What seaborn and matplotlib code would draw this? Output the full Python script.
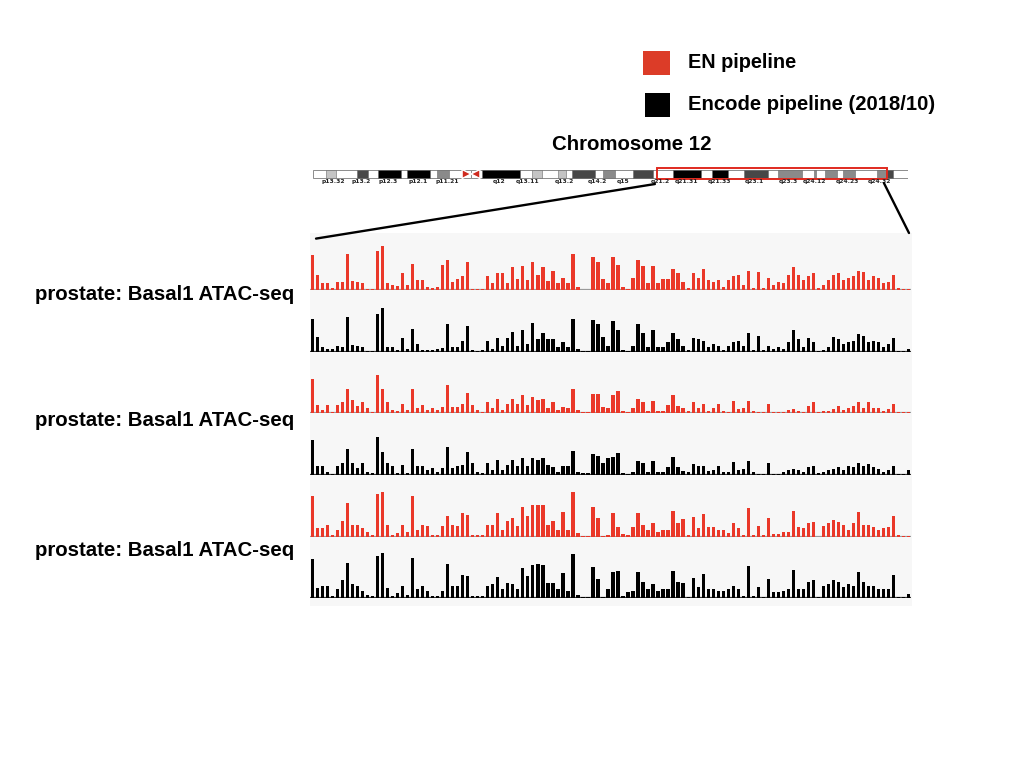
import numpy as np
import matplotlib.pyplot as plt
import seaborn as sns
from matplotlib.patches import Rectangle, Polygon, ConnectionPatch

sns.set_style("white")
plt.rcParams["font.family"] = ["Liberation Sans", "DejaVu Sans"]
plt.rcParams["text.color"] = "black"

W, H = 1024, 768

# chromosome 12 ideogram, positions in Mb
chrom_len = 133.3
band_start = [2.9, 9.9, 14.6, 21.1, 27.8, 37.9, 49.1, 54.9, 58.0, 65.0, 71.7, 80.6,
              89.4, 96.5, 104.2, 112.2, 114.7, 118.7, 126.3, 128.6]
band_end = [5.2, 12.3, 19.7, 26.2, 30.5, 46.4, 51.3, 56.7, 63.2, 67.6, 76.2, 86.9,
            93.0, 101.9, 109.5, 112.7, 117.4, 121.4, 128.6, 129.9]
band_stain = ["gpos25", "gpos75", "gpos100", "gpos100", "gpos50", "gpos100", "gpos25",
              "gpos25", "gpos75", "gpos50", "gpos75", "gpos100", "gpos100", "gpos75",
              "gpos50", "gpos50", "gpos50", "gpos50", "gpos50", "gpos75"]
cen_start, cen_end = 33.4, 37.4
band_labels = ["p13.32", "p13.2", "p12.3", "p12.1", "p11.21", "q12", "q13.11", "q13.2",
               "q14.2", "q15", "q21.2", "q21.31", "q21.33", "q23.1", "q23.3", "q24.12",
               "q24.23", "q24.32"]
band_label_pos = [4.5, 10.8, 16.8, 23.5, 30.0, 41.7, 48.0, 56.4, 63.6, 69.4, 77.9, 83.7,
                  91.1, 98.9, 106.5, 112.3, 119.7, 126.9]
zoom_start, zoom_end = 77.0, 128.6

# signal tracks (120 bins across the zoomed region)
en_basal1_a = [7.8, 3.3, 1.5, 1.5, 0.5, 1.8, 1.8, 8, 2, 1.8, 1.5, 0.3, 0.3, 8.7, 9.8, 1.5, 1, 0.8, 3.7, 1,
               5.8, 2.2, 2.2, 0.7, 0.5, 0.7, 5.5, 6.7, 1.8, 2.5, 3, 6.3, 0.3, 0.2, 0.3, 3, 1.5, 3.8, 3.7, 1.5,
               5, 2.5, 5.2, 2.2, 6.3, 3.3, 5, 2, 4.3, 1.5, 2.6, 1.5, 8, 0.7, 0.1, 0.1, 7.4, 6.3, 2.4, 1.5,
               7.4, 5.5, 0.7, 0.3, 2.6, 6.7, 5.2, 1.5, 5.2, 1.5, 2.5, 2.4, 4.6, 3.7, 1.8, 0.4, 3.7, 2.6, 4.6, 2.2,
               1.8, 2.2, 0.7, 2.2, 3, 3.3, 1, 4.3, 0.4, 4, 0.4, 2.6, 1, 1.8, 1.5, 3.3, 5, 3.3, 2.2, 3,
               3.7, 0.4, 1, 2.2, 3.3, 3.8, 2.2, 2.6, 3, 4.3, 4, 2.2, 3, 2.6, 1.5, 1.8, 3.3, 0.4, 0.2, 0.2]
encode_basal1_a = [7.4, 3.3, 1.1, 0.7, 0.6, 1.4, 1.1, 7.8, 1.5, 1.3, 1.2, 0.3, 0.2, 8.3, 9.8, 1.1, 1.1, 0.4, 3, 0.7,
                   5, 1.8, 0.4, 0.4, 0.4, 0.7, 0.8, 6.2, 1.1, 1.1, 2.5, 5.8, 0.4, 0.2, 0.4, 2.5, 0.7, 3, 1.4, 3,
                   4.5, 1.4, 4.9, 1.8, 6.5, 2.9, 4.3, 2.9, 2.9, 1.1, 2.2, 1.1, 7.4, 0.7, 0.2, 0.2, 7.1, 6.2, 3.3, 1.4,
                   6.9, 4.9, 0.4, 0.3, 1.4, 6.2, 4.3, 1.1, 4.9, 1.1, 1.1, 2.3, 4.3, 2.9, 1.4, 0.4, 3, 2.9, 2.5, 1.1,
                   1.8, 1.4, 0.4, 1.4, 2.2, 2.5, 1.4, 4.2, 0.4, 3.6, 0.4, 1.4, 0.7, 1.1, 0.7, 2.2, 4.9, 2.9, 1.1, 3,
                   2.2, 0.2, 0.4, 1.1, 3.3, 2.9, 1.8, 2.2, 2.5, 4, 3.6, 2.2, 2.5, 2.2, 1.1, 1.8, 3, 0.2, 0.2, 0.7]
en_basal1_b = [7.6, 1.7, 0.6, 1.7, 0.3, 1.7, 2.4, 5.4, 2.8, 1.5, 2.4, 1, 0.3, 8.4, 5.2, 2.4, 0.6, 0.4, 1.9, 0.6,
               5.2, 1, 1.7, 0.6, 1, 0.6, 1.4, 6.1, 1.4, 1.4, 2.1, 4.5, 1.7, 0.6, 0.3, 2.4, 1, 3.2, 0.6, 2.1,
               3.2, 2.1, 3.9, 1.7, 3.6, 2.8, 3.2, 1, 2.4, 0.6, 1.4, 1, 5.2, 0.6, 0.3, 0.3, 4.3, 4.3, 1.4, 1,
               3.9, 4.8, 0.5, 0.2, 1.1, 3.1, 2.4, 0.5, 2.7, 0.5, 0.5, 1.8, 3.9, 1.6, 1.1, 0.5, 2.4, 1.2, 2, 0.5,
               1.2, 2, 0.5, 0.3, 2.7, 0.8, 1.2, 2.7, 0.5, 0.2, 0.2, 2, 0.2, 0.2, 0.2, 0.7, 0.9, 0.5, 0.3, 1.5,
               2.4, 0.2, 0.4, 0.5, 0.9, 1.6, 0.7, 1.2, 1.6, 2.4, 1.2, 2.4, 1.2, 1.2, 0.5, 0.9, 1.9, 0.2, 0.2, 0.2]
encode_basal1_b = [7.8, 1.9, 1.9, 0.7, 0.3, 1.9, 2.6, 5.7, 2.6, 1.5, 2.6, 0.7, 0.4, 8.4, 5, 2.6, 1.9, 0.4, 2.2, 0.4,
                   5.7, 1.9, 1.9, 1.1, 1.5, 0.7, 1.5, 6.3, 1.5, 1.9, 2.2, 5, 2.6, 0.7, 0.4, 2.6, 1.1, 3.3, 1.1, 2.2,
                   3.3, 1.9, 3.7, 1.9, 3.7, 3.3, 3.7, 2.2, 1.7, 0.7, 1.9, 1.9, 5.3, 0.7, 0.4, 0.4, 4.6, 4.2, 2.6, 3.7,
                   3.9, 4.8, 0.4, 0.2, 0.6, 3.2, 2.6, 0.6, 3.2, 0.6, 0.6, 1.7, 3.9, 1.7, 0.8, 0.6, 2.4, 2, 1.9, 0.8,
                   1, 2, 0.6, 0.6, 2.8, 1, 1.3, 3, 0.6, 0.2, 0.2, 2.6, 0.2, 0.2, 0.7, 1, 1.3, 1, 0.6, 1.8,
                   2.1, 0.4, 0.6, 1, 1.3, 1.8, 1, 2, 1.7, 2.6, 2, 2.4, 1.7, 1.3, 0.6, 1.1, 1.9, 0.2, 0.2, 1.1]
en_basal1_c = [9, 2, 2, 2.7, 0.5, 1.5, 3.5, 7.6, 2.7, 2.7, 2, 1, 0.5, 9.4, 9.9, 2.7, 0.5, 0.9, 2.7, 1.2,
               9, 1.6, 2.7, 2.4, 0.5, 0.5, 2.4, 4.7, 2.7, 2.4, 5.2, 4.8, 0.5, 0.5, 0.5, 2.7, 2.7, 5.2, 1.6, 3.5,
               4.2, 2.4, 6.7, 4.6, 7, 7, 7, 2.7, 3.5, 1.6, 5.5, 1.6, 9.9, 0.9, 0.2, 0.2, 6.6, 4.2, 0.2, 0.5,
               5.3, 2.2, 0.7, 0.5, 2.2, 5.3, 2.6, 1.5, 3.1, 1.1, 1.5, 1.6, 5.8, 3, 4, 0.4, 4.4, 1.9, 5, 2.2,
               2.2, 1.5, 1.5, 0.9, 3, 1.9, 0.4, 6.4, 0.4, 2.4, 0.4, 4.1, 0.7, 0.7, 1.1, 1.1, 5.8, 2.2, 1.9, 3,
               3.3, 0.1, 2.4, 3, 3.7, 3.3, 2.6, 1.5, 3, 5.6, 2.6, 2.6, 2.2, 1.5, 1.9, 2.2, 4.7, 0.4, 0.2, 0.2]
encode_basal1_c = [8.7, 2.2, 2.6, 2.7, 0.4, 1.9, 4, 7.8, 3, 2.6, 1.5, 0.7, 0.4, 9.3, 10, 2.2, 0.4, 1.1, 2.6, 0.7,
                   8.9, 1.9, 2.6, 1.5, 0.4, 0.4, 1.5, 7.6, 2.6, 2.6, 5, 4.8, 0.4, 0.4, 0.4, 2.7, 3, 4.7, 1.9, 3.3,
                   3, 1.9, 6.7, 4.8, 7.2, 7.6, 7.2, 3.3, 3.3, 1.9, 5.6, 1.5, 9.8, 0.7, 0.2, 0.2, 6.8, 4.2, 0.2, 1.9,
                   5.7, 5.9, 0.5, 1.3, 1.5, 5.7, 3.5, 2, 3.1, 1.5, 1.9, 2, 5.9, 3.5, 3.3, 0.2, 4.4, 2.4, 5.3, 2,
                   1.9, 1.6, 1.5, 2, 2.7, 2, 0.5, 7, 0.5, 2.4, 0.2, 4.2, 1.3, 1.3, 1.6, 2, 6.1, 2, 2, 3.5,
                   3.9, 0.2, 2.7, 3.1, 3.9, 3.5, 2.4, 3.1, 2.7, 5.7, 3.5, 2.7, 2.7, 2, 2, 2, 5, 0.2, 0.2, 0.9]

tracks = [en_basal1_a, encode_basal1_a, en_basal1_b, encode_basal1_b, en_basal1_c, encode_basal1_c]
track_pipeline = ["EN", "Encode", "EN", "Encode", "EN", "Encode"]
sample_labels = ["prostate: Basal1 ATAC-seq"] * 3

pipeline_colors = {"EN": "#ea3829", "Encode": "#000000"}
stain_colors = {"gpos25": "#c4c4c4", "gpos50": "#8a8a8a", "gpos75": "#474747", "gpos100": "#000000"}


def px_axes(fig, x0, y0, x1, y1):
    return fig.add_axes([x0 / W, 1 - y1 / H, (x1 - x0) / W, (y1 - y0) / H])


fig = plt.figure(figsize=(W / 100, H / 100), dpi=100)
fig.patch.set_facecolor("white")

# legend
fig.patches.append(Rectangle((643 / W, 1 - 75 / H), 27 / W, 24 / H, transform=fig.transFigure,
                             facecolor="#dc3c28", edgecolor="none"))
fig.patches.append(Rectangle((645 / W, 1 - 117 / H), 25 / W, 24 / H, transform=fig.transFigure,
                             facecolor="black", edgecolor="none"))
fig.text(688 / W, 1 - 63 / H, "EN pipeline", fontsize=14.3, fontweight="bold", va="center")
fig.text(688 / W, 1 - 105 / H, "Encode pipeline (2018/10)", fontsize=14.6, fontweight="bold", va="center")
fig.text(632 / W, 1 - 144 / H, "Chromosome 12", fontsize=14.7, fontweight="bold", ha="center", va="center")

# ideogram
ideo = px_axes(fig, 313, 164, 908, 190)
ideo.set_xlim(0, chrom_len)
ideo.set_ylim(0, 1)
ideo.axis("off")
cen_mid = (cen_start + cen_end) / 2
ideo.add_patch(Rectangle((0, 0.46), cen_mid, 0.31, facecolor="white", edgecolor="#8c8c8c", lw=0.7))
ideo.add_patch(Rectangle((cen_mid, 0.46), chrom_len - cen_mid, 0.31, facecolor="white",
                         edgecolor="#8c8c8c", lw=0.7))
for s, e, st in zip(band_start, band_end, band_stain):
    ideo.add_patch(Rectangle((s, 0.46), e - s, 0.31, facecolor=stain_colors[st],
                             edgecolor="#6a6a6a", lw=0.4))
ideo.add_patch(Polygon([(cen_start, 0.44), (cen_start, 0.79), (cen_mid, 0.615)], facecolor="#cf2a1e"))
ideo.add_patch(Polygon([(cen_end, 0.44), (cen_end, 0.79), (cen_mid, 0.615)], facecolor="#cf2a1e"))
for lab, pos in zip(band_labels, band_label_pos):
    ideo.text(pos, 0.33, lab, fontsize=4.3, fontweight="bold", ha="center", va="center",
              family=["DejaVu Sans"], color="#222222")
ideo.add_patch(Rectangle((zoom_start, 0.42), zoom_end - zoom_start, 0.41, facecolor="none",
                         edgecolor="#e02a1f", lw=1.4))

# track panel background
bg = px_axes(fig, 310, 233, 912, 606)
bg.set_facecolor("#f7f7f7")
bg.set_xticks([])
bg.set_yticks([])
for sp in bg.spines.values():
    sp.set_visible(False)

track_bottoms = [290, 352, 413, 475, 537, 598]
bins = np.arange(len(en_basal1_a))
for vals, pipe, bottom in zip(tracks, track_pipeline, track_bottoms):
    ax = px_axes(fig, 310, bottom - 52, 911, bottom)
    sns.barplot(x=bins, y=vals, color=pipeline_colors[pipe], width=0.65, saturation=1,
                linewidth=0, errorbar=None, ax=ax)
    ax.axhline(0, color="#9a9a9a" if pipe == "EN" else "#333333", lw=1.6, zorder=0)
    ax.set_xlim(-0.5, len(bins) - 0.5)
    ax.set_ylim(0, 11.5)
    ax.axis("off")

for lab, y in zip(sample_labels, [294, 421, 551]):
    fig.text(35 / W, 1 - y / H, lab, fontsize=14.7, fontweight="bold", va="center")

# zoom connector lines
for xa, ya, xb, yb in [(76.6, 0.23, 0.01, 0.985), (127.9, 0.27, 0.995, 1.0)]:
    con = ConnectionPatch(xyA=(xa, ya), coordsA="data", axesA=ideo,
                          xyB=(xb, yb), coordsB="axes fraction", axesB=bg,
                          color="black", lw=1.7)
    fig.add_artist(con)

fig.savefig("out.png", dpi=100)
